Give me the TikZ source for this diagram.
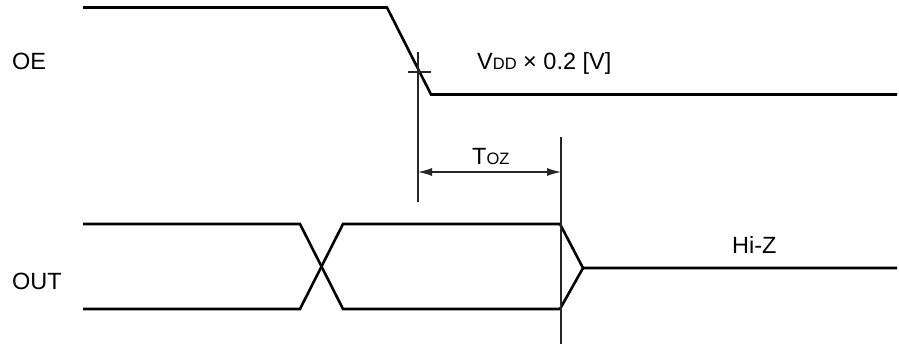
\documentclass[tikz,border=0pt]{standalone}
\usepackage{fontspec}
\setmainfont{Liberation Sans}
\usetikzlibrary{arrows.meta}
\tikzset{
  wave/.style={line width=2.6pt, line join=miter, line cap=butt},
  thin/.style={line width=1.1pt, draw=black!85},
  lbl/.style={inner sep=0pt, anchor=base west, font=\fontsize{23.5}{27}\selectfont},
  dim/.style={thin, {Latex[length=14pt,width=8pt]}-{Latex[length=14pt,width=8pt]}}
}
\newcommand{\smallsub}[1]{{\fontsize{16.5}{18}\selectfont #1}}
\begin{document}
\begin{tikzpicture}[x=1pt,y=-1pt]
\useasboundingbox (0,0) rectangle (899,344);
% OE waveform
\coordinate (oeA) at (83,7.5);
\coordinate (oeB) at (387,7.5);
\coordinate (oeC) at (431,94.5);
\coordinate (oeD) at (897,94.5);
\draw[wave] (oeA) -- (oeB) -- (oeC) -- (oeD);
% OUT waveform
\coordinate (tA) at (83,224);
\coordinate (tB) at (300,224);
\coordinate (tC) at (343,309);
\coordinate (tD) at (560,309);
\coordinate (bA) at (83,309);
\coordinate (bB) at (300,309);
\coordinate (bC) at (343,224);
\coordinate (bD) at (560,224);
\coordinate (apex) at (583,268);
\coordinate (hz) at (897,268);
\draw[wave] (tA) -- (tB) -- (tC) -- (tD) -- (apex);
\draw[wave] (bA) -- (bB) -- (bC) -- (bD) -- (apex) -- (hz);
% markers
\coordinate (v1t) at (418,52);
\coordinate (v1b) at (418,202);
\coordinate (v2t) at (561,137);
\coordinate (v2b) at (561,344);
\coordinate (tkL) at (408,72);
\coordinate (tkR) at (431,72);
\draw[thin] (v1t) -- (v1b);
\draw[thin] (v2t) -- (v2b);
\draw[thin] (tkL) -- (tkR);
\coordinate (arL) at (418,172);
\coordinate (arR) at (561,172);
\draw[dim] (arL) -- (arR);
% labels
\node[lbl] (oe) at (12,70) {OE};
\node[lbl] (out) at (12,290) {OUT};
\node[lbl] (hiz) at (732,254) {Hi-Z};
\node[lbl] (vdd) at (477,70) {V\smallsub{DD} × 0.2 [V]};
\node[lbl] (toz) at (472,165) {T\smallsub{OZ}};
\end{tikzpicture}
\end{document}
